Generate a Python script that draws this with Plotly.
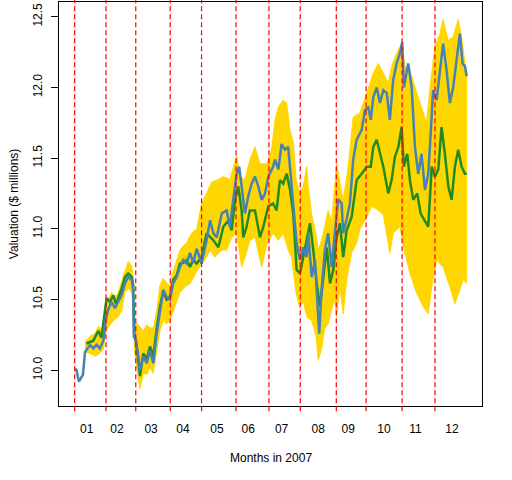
import plotly.graph_objects as go

# trading-day index (1..251) on x, valuation in $ millions on y

# actual portfolio (steelblue)
blue_day = [1, 2, 3.7, 6.3, 7.6, 10.8, 12.9, 15, 17.1, 19.3, 20.8, 22.4, 24.6, 26.7, 28.8, 31, 33.1, 35.2, 37.4, 38.2,
            38.8, 40.1, 41.6, 42.7, 44.8, 47, 49.1, 51.2, 53.4, 55.4, 57.5, 59.7, 61.8, 63.9, 66.1, 68.2, 70.3, 72.5,
            74.6, 76.7, 78.9, 82, 85.2, 87.4, 89.5, 91.7, 94.9, 98, 100.1, 102.2, 104.4, 106, 107.6, 109.7, 111.8,
            114, 116.1, 118.2, 120.4, 122.5, 124.6, 127.7, 128.9, 131, 133.1, 135.2, 137.3, 138.4, 140.5, 142.7,
            144.8, 146.9, 149.1, 150.1, 152.3, 154.4, 155.8, 157.1, 158.6, 160.7, 162.8, 165, 167.1, 169.2, 171.4,
            172.4, 174.6, 176.7, 178.8, 181, 184.2, 186.3, 188.4, 190, 191.6, 193.8, 195.9, 198, 200.2, 202.2,
            204.3, 206.5, 208.6, 210.1, 211.1, 213.9, 216.1, 218.2, 220.3, 222.4, 224.6, 226.7, 228.4, 229.8, 232,
            234.1, 236.2, 238.4, 240.5, 242.6, 244.8, 246.9, 248.6, 250.1, 251.2]
blue_val = [10.00, 10.01, 9.92, 9.97, 10.13, 10.18, 10.155, 10.18, 10.155, 10.21, 10.355, 10.43, 10.485, 10.44,
            10.485, 10.53, 10.615, 10.66, 10.64, 10.58,
            10.24, 10.21, 10.10, 10.00, 10.10, 10.05, 10.14, 10.05, 10.26, 10.40, 10.57, 10.52, 10.50, 10.615,
            10.66, 10.73, 10.78, 10.755,
            10.83, 10.76, 10.86, 10.755, 10.92, 11.06, 10.97, 10.94, 11.11, 11.13, 11.015, 11.205, 11.39, 11.44,
            11.30, 11.11, 11.23,
            11.32, 11.37, 11.30, 11.205, 11.25, 11.37, 11.44, 11.49, 11.42, 11.60, 11.56, 11.58, 11.44, 11.21,
            10.90,
            10.78, 10.87, 10.80, 10.97, 10.66, 10.78, 10.50, 10.26, 10.57, 10.85, 10.97, 10.73, 10.97, 11.21,
            11.18,
            10.97, 11.07, 11.18, 11.49, 11.63, 11.70, 11.84, 11.86, 11.77, 11.93, 12.00, 11.89, 11.98, 11.96,
            11.77,
            12.05, 12.17, 12.24, 12.32, 12.00, 12.17, 12.00, 11.58, 11.39, 11.53, 11.275, 11.39, 11.70, 11.98,
            11.91,
            12.10, 12.31, 12.12, 11.89, 12.00, 12.19, 12.38, 12.17, 12.15, 12.08]

# central random portfolio path (forestgreen)
green_day = [8.5, 12.9, 16.1, 18, 21.4, 23.5, 25.6, 27.5, 31, 33.1, 35.2, 37.4, 38.4, 39, 40.1, 42.7, 44.8, 47,
             49.1, 51.2, 53.4, 55.4, 57.5, 59.7, 61.8, 63.9, 66.1, 68.2, 70.3, 72.5, 74.6, 76.7, 78.9, 82, 85.2,
             89.5, 92.7, 95.9, 99.1, 101.2, 103.3, 105.4, 107.6, 108.6, 110.7, 112.8, 116.1, 119.3, 121.4, 124.6,
             127.7, 129.9, 132, 134.1, 136.3, 138.4, 140.5, 142.7, 144.8, 148, 151.2, 153.3, 155.5, 157.6, 159.7,
             161.9, 164, 166.1, 168.2, 170.3, 172.4, 174.6, 177.8, 181, 184.2, 187.4, 190, 191.6, 193.8, 195.9,
             198, 201.2, 203.3, 205.4, 207.6, 209.7, 211.1, 213.3, 215, 217.1, 219.7, 221.8, 224.6, 226.7, 228.9,
             231, 233.1, 235.2, 237.3, 239.5, 241.6, 243.7, 245.8, 248, 250.1, 251.2]
green_val = [10.19, 10.21, 10.28, 10.23, 10.51, 10.485, 10.53, 10.47, 10.58, 10.66, 10.685, 10.66, 10.60, 10.26,
             10.21, 9.96, 10.12, 10.08,
             10.17, 10.10, 10.30, 10.45, 10.555, 10.50, 10.52, 10.64, 10.67, 10.755, 10.76, 10.78, 10.73, 10.78,
             10.755, 10.80, 10.97,
             10.92, 10.87, 11.015, 11.06, 10.99, 11.205, 11.30, 11.13, 10.94, 11.015, 11.13, 11.13, 10.94, 11.015,
             11.16,
             11.18, 11.13, 11.345, 11.32, 11.39, 11.28, 11.11, 10.71, 10.685, 10.85, 11.04, 10.85, 10.615, 10.45,
             10.66,
             10.87, 10.615, 10.71, 10.94, 11.04, 10.80, 10.99, 11.085, 11.345, 11.39, 11.44, 11.44, 11.58, 11.63,
             11.53,
             11.44, 11.25, 11.345, 11.51, 11.58, 11.72, 11.44, 11.53, 11.345, 11.205, 11.25, 11.11, 11.06, 11.015,
             11.44,
             11.37, 11.42, 11.72, 11.53, 11.30, 11.205, 11.44, 11.56, 11.44, 11.39, 11.39]

# spread of the random portfolios (gold): upper and lower edges
gold_hi_day = [7.6, 10.8, 14, 16.1, 19.3, 21, 22.4, 24.6, 26.7, 28.8, 31, 33.1, 35.2, 37.4, 38.4, 39, 41.6, 44.8,
               47, 49.1, 51.2, 53.4, 55.4, 57.5, 59.7, 61.8, 63.9, 66.1, 68.2, 70.3, 72.5, 74.6, 76.7, 78.9, 82,
               85.2, 88.4, 92.7, 95.9, 100.1, 103.3, 104.4, 106.5, 109.7, 112.9, 116.1, 119.3, 123.6, 126.7, 128.9,
               131, 134.1, 136.3, 138.4, 140.6, 142.3, 144.8, 146.9, 149.1, 150.1, 152.3, 154.4, 156.5, 158.6,
               160.7, 162.8, 165, 167.1, 168.2, 172.4, 175.6, 178.8, 183.1, 187.4, 191.6, 194.8, 198, 201.2, 203.3,
               206.5, 209.7, 211.8, 215, 218.2, 221.4, 225.6, 227.8, 230.9, 234.1, 236.2, 239.4, 242.6, 245.8,
               247.9, 250.1, 251.2]
gold_hi_val = [10.20, 10.24, 10.26, 10.31, 10.28, 10.40, 10.50, 10.55, 10.52, 10.55, 10.62, 10.70, 10.77, 10.74,
               10.66, 10.35, 10.32, 10.28,
               10.32, 10.30, 10.30, 10.42, 10.60, 10.65, 10.62, 10.60, 10.70, 10.78, 10.85, 10.88, 10.90, 10.95,
               10.98, 11.00, 11.18,
               11.25, 11.33, 11.35, 11.37, 11.35, 11.49, 11.52, 11.37, 11.35, 11.49, 11.58, 11.46, 11.46, 11.56,
               11.77,
               11.86, 11.91, 11.89, 11.70, 11.61, 11.35, 11.25, 11.30, 11.44, 11.30, 11.10, 11.00, 10.85, 10.92,
               11.02, 11.13, 11.05, 11.30, 11.46, 11.20, 11.44, 11.79, 11.82, 11.96, 12.10, 12.17, 12.10, 12.03,
               12.15,
               12.24, 12.31, 12.15, 12.12, 12.00, 11.89, 11.75, 12.00, 12.29, 12.38, 12.48, 12.33, 12.36, 12.48,
               12.36, 12.17, 12.12]
gold_lo_day = [7.6, 10.8, 14, 17.1, 19.3, 21, 22.4, 25.6, 28.8, 31, 33.1, 35.2, 37.4, 38.4, 39, 41.6, 42.7, 44.8,
               47, 49.1, 51.2, 53.4, 55.4, 57.5, 59.7, 61.8, 63.9, 66.1, 68.2, 72.5, 74.6, 78.9, 82, 85.2, 87.4,
               90.6, 94.9, 98, 101.2, 104.4, 107.6, 109.7, 112.9, 116.1, 120.4, 123.6, 127.7, 131, 134.1, 137.3,
               139.4, 142.3, 144.5, 147, 149.1, 152.3, 155, 156.5, 158.6, 160.7, 162.8, 165, 167, 168.2, 170.3,
               172.4, 174.6, 177.8, 181, 183.1, 186.3, 190.6, 195, 198, 202.2, 204.3, 208.6, 211.8, 215, 219.3,
               223.5, 226.7, 228.9, 232, 236.2, 240.5, 243.7, 245.8, 249, 251.2]
gold_lo_val = [10.13, 10.12, 10.10, 10.12, 10.15, 10.28, 10.30, 10.35, 10.38, 10.42, 10.55, 10.58, 10.55, 10.50,
               10.15, 9.95, 9.87, 9.98,
               9.97, 10.02, 9.98, 10.15, 10.28, 10.35, 10.33, 10.35, 10.42, 10.48, 10.55, 10.60, 10.61, 10.70,
               10.75, 10.80, 10.85,
               10.80, 10.85, 10.85, 10.94, 10.97, 10.73, 10.80, 10.92, 10.94, 10.73, 10.89, 10.97, 10.92, 10.97,
               10.85,
               10.80, 10.55, 10.45, 10.48, 10.38, 10.35, 10.25, 10.07, 10.15, 10.30, 10.33, 10.43, 10.50, 10.38,
               10.59,
               10.40, 10.64, 10.83, 10.90, 11.00, 11.06, 11.16, 11.13, 11.10, 10.83, 10.97, 11.015, 10.83, 10.685,
               10.545,
               10.45, 10.40, 10.59, 10.78, 10.73, 10.59, 10.47, 10.545, 10.64, 10.615]

# first trading day of each month, and where the month labels sit
month_start = [1, 21, 40, 62, 82, 104, 125, 145, 168, 187, 210, 231]
label_pos = [8.7, 28, 49.8, 70.1, 91.8, 111.8, 133.1, 156.5, 175.6, 198.4, 218.5, 241.8]
month_labels = ["01", "02", "03", "04", "05", "06", "07", "08", "09", "10", "11", "12"]
y_ticks = [10.0, 10.5, 11.0, 11.5, 12.0, 12.5]

font = dict(family="Liberation Sans, Arial, sans-serif", size=12, color="black")

fig = go.Figure()

fig.add_trace(go.Scatter(
    x=gold_hi_day + gold_lo_day[::-1],
    y=gold_hi_val + gold_lo_val[::-1],
    mode="lines", fill="toself", fillcolor="#FFD700",
    line=dict(color="#FFD700", width=1), hoverinfo="skip"))
fig.add_trace(go.Scatter(x=green_day, y=green_val, mode="lines",
                         line=dict(color="#228B22", width=2.5)))
fig.add_trace(go.Scatter(x=blue_day, y=blue_val, mode="lines",
                         line=dict(color="#4682B4", width=2.5)))

for d in month_start:
    fig.add_shape(type="line", xref="x", yref="paper", x0=d, x1=d, y0=-0.013, y1=1.006,
                  line=dict(color="#FF0000", width=1.2, dash="5px,3px"))

fig.update_layout(
    width=512, height=480,
    margin=dict(l=59, r=30, t=2, b=74),
    paper_bgcolor="white", plot_bgcolor="white",
    showlegend=False, font=font,
    xaxis=dict(range=[-9, 261], showgrid=False, zeroline=False,
               showline=True, mirror=True, linecolor="black", linewidth=1,
               ticks="", tickvals=label_pos, ticktext=month_labels,
               tickfont=font, ticklabelstandoff=12),
    yaxis=dict(range=[9.748, 12.604], showgrid=False, zeroline=False,
               showline=True, mirror=True, linecolor="black", linewidth=1,
               ticks="outside", ticklen=7, tickcolor="black",
               tickvals=y_ticks, ticktext=["%.1f" % v for v in y_ticks],
               tickangle=-90, tickfont=font, ticklabelstandoff=4),
    annotations=[
        dict(text="Months in 2007", xref="paper", yref="paper", x=0.5, y=-0.129,
             showarrow=False, font=font, xanchor="center", yanchor="middle"),
        dict(text="Valuation ($ millions)", xref="paper", yref="paper", x=-0.106, y=0.5,
             showarrow=False, font=font, textangle=-90, xanchor="center", yanchor="middle"),
    ],
)

# the page body has an 8px default margin; drop it so the figure sits at the window corner
fig.write_html("out.html", config={"displayModeBar": False},
               post_script="document.body.style.margin='0';")
